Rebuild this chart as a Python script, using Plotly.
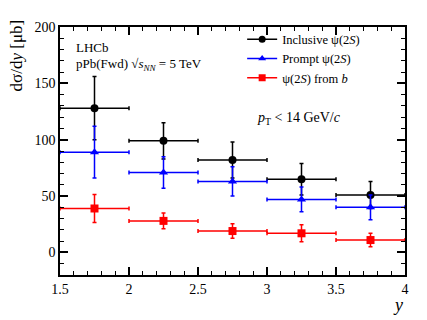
import plotly.graph_objects as go

y_centers = [1.75, 2.25, 2.75, 3.25, 3.75]
y_halfwidth = [0.25, 0.25, 0.25, 0.25, 0.25]

inclusive = [128, 99, 82, 65, 51]
inclusive_err = [28, 16, 16, 14, 12]

prompt = [89, 71, 63, 47, 40]
prompt_err = [23, 14, 13, 11, 11]

fromb = [39, 28, 19, 17, 11]
fromb_err = [12.5, 7, 6.5, 7.5, 6]

series = [
    ("Inclusive ψ(2<i>S</i>)", inclusive, inclusive_err, "black", "circle", 8),
    ("Prompt ψ(2<i>S</i>)", prompt, prompt_err, "#0000ff", "triangle-up", 8),
    ("ψ(2<i>S</i>) from <i>b</i>", fromb, fromb_err, "#ff0000", "square", 8),
]

FONT = "Liberation Serif, Times New Roman, serif"

fig = go.Figure()
for name, vals, errs, col, sym, size in series:
    fig.add_trace(go.Scatter(
        x=y_centers, y=vals, mode="markers", showlegend=False,
        marker=dict(color=col, symbol=sym, size=size),
        error_x=dict(type="data", array=y_halfwidth, color=col, thickness=1.5, width=2),
        error_y=dict(type="data", array=errs, color=col, thickness=1.5, width=2),
    ))
for name, vals, errs, col, sym, size in series:
    fig.add_trace(go.Scatter(
        x=[None], y=[None], mode="lines+markers", name=name,
        line=dict(color=col, width=1.5),
        marker=dict(color=col, symbol=sym, size=7),
    ))

axis_common = dict(
    showgrid=False, zeroline=False, showline=True, linecolor="black", linewidth=1.5,
    mirror="allticks", ticks="inside", ticklen=8, tickwidth=1.5, tickcolor="black",
    tickfont=dict(family=FONT, size=14, color="black"),
)

fig.update_xaxes(range=[1.5, 4], tickvals=[1.5, 2, 2.5, 3, 3.5, 4],
                 ticktext=["1.5", "2", "2.5", "3", "3.5", "4"],
                 minor=dict(dtick=0.1, tick0=1.5, ticks="inside", ticklen=4, tickcolor="black", tickwidth=1.2),
                 **axis_common)
fig.update_yaxes(range=[-20, 200], tickvals=[0, 50, 100, 150, 200],
                 minor=dict(dtick=10, tick0=0, ticks="inside", ticklen=4, tickcolor="black", tickwidth=1.2),
                 **axis_common)

# plot area (page px): x 60..405, y 22..275 ; page offset by 8px body margin
fig.add_annotation(xref="paper", yref="paper", x=-0.125, y=0.885, xanchor="center", yanchor="middle",
                   textangle=-90, text="dσ/d<i>y</i> [μb]", showarrow=False,
                   font=dict(family=FONT, size=17, color="black"))
fig.add_annotation(xref="paper", yref="paper", x=0.98, y=-0.12, xanchor="center", yanchor="middle",
                   text="<i>y</i>", showarrow=False, font=dict(family=FONT, size=18, color="black"))
fig.add_annotation(xref="paper", yref="paper", x=0.04, y=0.917, xanchor="left", yanchor="middle",
                   text="LHCb", showarrow=False, font=dict(family=FONT, size=13, color="black"))
fig.add_annotation(xref="paper", yref="paper", x=0.04, y=0.85, xanchor="left", yanchor="middle",
                   text="pPb(Fwd) √<i>s</i><sub><i>NN</i></sub> = 5 TeV", showarrow=False,
                   font=dict(family=FONT, size=13, color="black"))
fig.add_annotation(xref="paper", yref="paper", x=0.565, y=0.63, xanchor="left", yanchor="middle",
                   text="<i>p</i><sub>T</sub> < 14 GeV/<i>c</i>", showarrow=False,
                   font=dict(family=FONT, size=14, color="black"))

fig.update_layout(
    width=419, height=312,
    margin=dict(l=52, r=22, t=14, b=45),
    paper_bgcolor="white", plot_bgcolor="white",
    font=dict(family=FONT, color="black"),
    legend=dict(x=0.528, y=1.01, xanchor="left", yanchor="top",
                bgcolor="rgba(0,0,0,0)", font=dict(family=FONT, size=12.5, color="black"),
                itemwidth=30, tracegroupgap=0),
)

fig.write_html("out.html")
